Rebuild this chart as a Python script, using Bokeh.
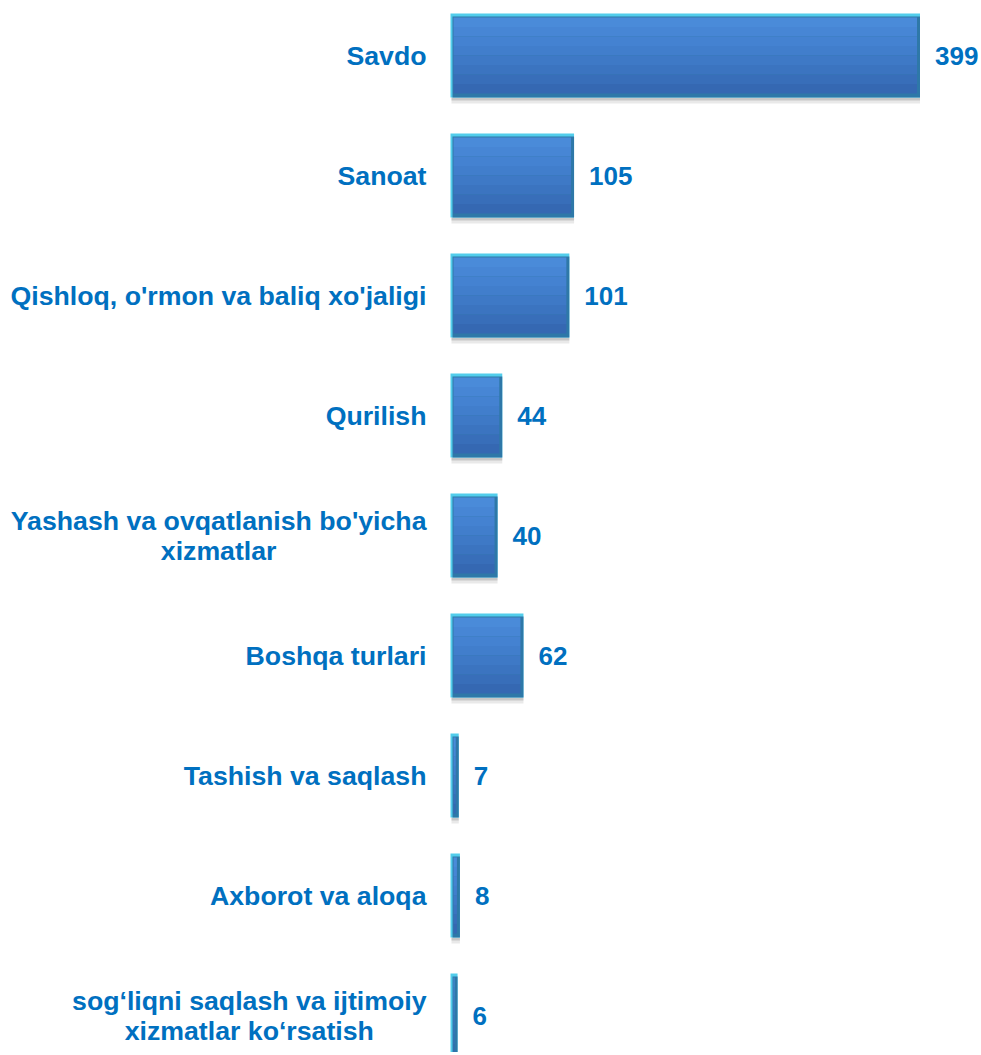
from bokeh.plotting import figure
from bokeh.models import Range1d, ColumnDataSource
from bokeh.embed import file_html
from bokeh.resources import INLINE
from bokeh.core.properties import value

categories = [
    "Savdo",
    "Sanoat",
    "Qishloq, o'rmon va baliq xo'jaligi",
    "Qurilish",
    "Yashash va ovqatlanish bo'yicha\nxizmatlar",
    "Boshqa turlari",
    "Tashish va saqlash",
    "Axborot va aloqa",
    "sog‘liqni saqlash va ijtimoiy\nxizmatlar ko‘rsatish",
]
values = [399, 105, 101, 44, 40, 62, 7, 8, 6]

TXT = "#0070C0"
FONT = "Liberation Sans"

# layout (pixels)
FIG_W, FIG_H = 980, 1052
ZERO_X = 450          # pixel where value 0 sits
ROW0_Y = 55           # pixel centre of first row
px_per_unit = 469.5 / 399.0
row_px = 120.0

px = 1.0 / px_per_unit   # one pixel in x data units
py = 1.0 / row_px        # one pixel in y data units
bar_h = 84 * py

x_start = -ZERO_X * px
x_end = (FIG_W - ZERO_X) * px
y_top = -ROW0_Y * py
y_bot = y_top + FIG_H * py

p = figure(width=FIG_W, height=FIG_H, output_backend="svg", toolbar_location=None,
           x_range=Range1d(x_start, x_end), y_range=Range1d(y_bot, y_top),
           min_border_left=0, min_border_right=0, min_border_top=0, min_border_bottom=0)

ys = list(range(len(categories)))
src = ColumnDataSource(dict(y=ys, v=values, cat=categories,
                            zero=[0] * len(values),
                            lab=[str(v) for v in values],
                            v_in=[max(v - 3 * px, 0.6 * px) for v in values]))

# shadow under bars
p.hbar(y=[y + bar_h / 2 + 3 * py for y in ys], height=6 * py, left=1 * px, right=values,
       fill_color="#9a9a9a", fill_alpha=0.22, line_color=None)
p.hbar(y=[y + bar_h / 2 + 1.5 * py for y in ys], height=3 * py, left=1 * px, right=values,
       fill_color="#7a7a7a", fill_alpha=0.3, line_color=None)
# outer bevel (light cyan top/left)
p.hbar(y="y", height=bar_h, left=0, right="v", source=src,
       fill_color="#52CDEB", line_color=None)
# darker bottom/right bevel
p.hbar(y=[y + 1.5 * py for y in ys], height=bar_h - 3 * py, left=2 * px, right=values,
       fill_color="#2E78A8", line_color=None)
# inner face with vertical gradient (bands)
face = ["#4A8BD9", "#4786D5", "#4482D1", "#417ECC", "#3E79C6", "#3B74C0", "#386EB9", "#3568B2"]
n = len(face)
inner_h = bar_h - 8 * py
band = inner_h / n
for k, col in enumerate(face):
    yc = [y - bar_h / 2 + 4 * py + band * (k + 0.5) for y in ys]
    p.hbar(y=yc, height=band * 1.02, left=3 * px, right=src.data["v_in"],
           fill_color=col, line_color=None)

# value labels
p.text(x="v", y="y", text="lab", source=src, x_offset=15,
       text_align="left", text_baseline="middle",
       text_font=value(FONT), text_font_style="bold", text_font_size="26px",
       text_color=TXT)

# category labels (block right-aligned, lines centred)
p.text(x="zero", y="y", text="cat", source=src, x_offset=-24,
       anchor="center_right", text_align="center", text_baseline="middle",
       text_line_height=1.0,
       text_font=value(FONT), text_font_style="bold", text_font_size="26.7px",
       text_color=TXT)

p.axis.visible = False
p.grid.visible = False
p.outline_line_color = None

open("out.html", "w").write(file_html(p, INLINE))
